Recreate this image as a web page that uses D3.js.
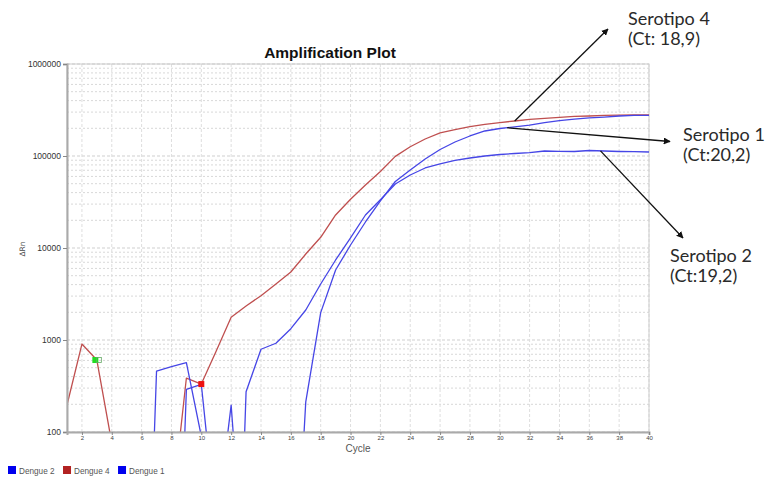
<!DOCTYPE html>
<html>
<head>
<meta charset="utf-8">
<script src="https://cdn.jsdelivr.net/npm/d3@7"></script>
<style>
  html, body { margin: 0; padding: 0; background: #fff; }
  svg { display: block; }
</style>
</head>
<body>
<svg id="chart" width="768" height="477"></svg>
<script>
// ---------------- data ----------------
const cycles = [1,2,3,4,5,6,7,8,9,10,11,12,13,14,15,16,17,18,19,20,
                21,22,23,24,25,26,27,28,29,30,31,32,33,34,35,36,37,38,39,40];
// values below 100 lie under the axis and are clipped
const dengue4 = [196,904,606,76,0.01,0.01,0.01,13,386,332,758,1765,2342,3030,4062,5484,8606,13070,22850,33840,
                 48400,67800,99000,126000,153000,178000,194000,209000,221000,231000,240000,250000,257000,263000,269000,272000,276000,278000,279000,279000];
const dengue2 = [0.01,0.01,0.01,0.01,0.01,0.01,460,512,566,90,0.01,0.005,274,793,922,1327,2119,4062,7410,12850,
                 22850,33500,49600,62200,74100,81900,89400,95100,100000,103800,106400,108600,113300,112000,111900,114700,113300,111900,111300,110500];
const dengue1 = [0.01,0.01,0.01,0.01,0.01,0.01,0.01,0.01,290,330,9,196,1.2,0.3,0.3,0.28,213,1984,5770,10780,
                 19170,32500,52800,70400,92800,117700,142000,165000,187000,199000,207000,217000,231000,243000,252000,259000,265000,272000,276000,276000];
const seriesNames = ["Dengue 2", "Dengue 4", "Dengue 1"];
const seriesColors = ["#0000ee", "#b22222", "#0000ee"];
const lineColors = {"Dengue 2": "#4646e6", "Dengue 4": "#bf4f4f", "Dengue 1": "#4646e6"};
const yTicks = [100, 1000, 10000, 100000, 1000000];
const xTicks = [2,4,6,8,10,12,14,16,18,20,22,24,26,28,30,32,34,36,38,40];
const annotations = [
  {lines: ["Serotipo 4", "(Ct: 18,9)"], series: "Dengue 4", cycle: 31, tx: 628, ty: 25, ax: 608, ay: 29},
  {lines: ["Serotipo 1", "(Ct:20,2)"], series: "Dengue 1", cycle: 30.5, tx: 683, ty: 141, ax: 670, ay: 141.5},
  {lines: ["Serotipo 2", "(Ct:19,2)"], series: "Dengue 2", cycle: 36.75, tx: 670, ty: 262, ax: 683, ay: 238}
];

// ---------------- chart ----------------
const svg = d3.select("#chart");
const L = 67, R = 649, T = 64, B = 432;
const x = d3.scaleLinear().domain([1, 40]).range([L, R]);
const y = d3.scaleLog().domain([100, 1e6]).range([B, T]);

const seriesData = {"Dengue 2": dengue2, "Dengue 4": dengue4, "Dengue 1": dengue1};

svg.append("rect").attr("width", 768).attr("height", 477).attr("fill", "#fff");

svg.append("defs").append("clipPath").attr("id", "clip")
  .append("rect").attr("x", L).attr("y", T).attr("width", R - L).attr("height", B - T);

// grid
const minor = [];
for (let d = 100; d < 1e6; d *= 10) for (let k = 2; k <= 9; k++) minor.push(d * k);
const grid = svg.append("g");
grid.selectAll("line.hm").data(minor).join("line")
  .attr("x1", L).attr("x2", R).attr("y1", d => y(d)).attr("y2", d => y(d))
  .attr("stroke", "#d8d8d8").attr("stroke-width", 1).attr("stroke-dasharray", "2,2");
grid.selectAll("line.hM").data(yTicks).join("line")
  .attr("x1", L).attr("x2", R).attr("y1", d => y(d)).attr("y2", d => y(d))
  .attr("stroke", "#cfcfcf").attr("stroke-width", 1).attr("stroke-dasharray", "3,2");
grid.selectAll("line.v").data(xTicks).join("line")
  .attr("x1", d => x(d)).attr("x2", d => x(d)).attr("y1", T).attr("y2", B)
  .attr("stroke", "#dedede").attr("stroke-width", 1).attr("stroke-dasharray", "3,2");

// frame
svg.append("rect").attr("x", L).attr("y", T).attr("width", R - L).attr("height", B - T)
  .attr("fill", "none").attr("stroke", "#cccccc").attr("stroke-width", 1);

// lines
const line = d3.line().x((d, i) => x(cycles[i])).y(d => y(d));
const lines = svg.append("g").attr("clip-path", "url(#clip)");
["Dengue 4", "Dengue 2", "Dengue 1"].forEach(name => {
  lines.append("path").datum(seriesData[name])
    .attr("d", line).attr("fill", "none")
    .attr("stroke", lineColors[name]).attr("stroke-width", 1.3)
    .attr("stroke-linejoin", "round");
});

// Ct markers
lines.append("rect").attr("x", x(3) - 4.5).attr("y", y(dengue4[2]) - 3).attr("width", 6).attr("height", 6).attr("fill", "#22dd22");
lines.append("rect").attr("x", x(3) - 0.5).attr("y", y(dengue4[2]) - 2.5).attr("width", 5).attr("height", 5).attr("fill", "none").attr("stroke", "#66aa66").attr("stroke-width", 0.8);
lines.append("rect").attr("x", x(10) - 3).attr("y", y(dengue4[9]) - 3).attr("width", 6).attr("height", 6).attr("fill", "#ee1111");

// axes
const yAxis = svg.append("g").attr("transform", `translate(${L},0)`)
  .call(d3.axisLeft(y).tickValues(yTicks).tickFormat(d3.format("d")).tickSize(4).tickPadding(2));
yAxis.select(".domain").attr("stroke", "#aaaaaa").attr("stroke-width", 2);
yAxis.selectAll(".tick line").attr("stroke", "#888");
yAxis.selectAll("text").attr("font-family", "Liberation Sans, Arial, sans-serif").attr("font-size", 8.5).attr("fill", "#333");

const xAxis = svg.append("g").attr("transform", `translate(0,${B})`)
  .call(d3.axisBottom(x).tickValues(xTicks).tickFormat(d3.format("d")).tickSize(3).tickPadding(1));
xAxis.select(".domain").attr("stroke", "#aaaaaa").attr("stroke-width", 2);
xAxis.selectAll(".tick line").attr("stroke", "#888");
xAxis.selectAll("text").attr("font-family", "Liberation Sans, Arial, sans-serif").attr("font-size", 6).attr("fill", "#444");

// titles
svg.append("text").attr("x", 330).attr("y", 58).attr("text-anchor", "middle")
  .attr("font-family", "Liberation Sans, Arial, sans-serif").attr("font-weight", "bold").attr("font-size", 15.5)
  .attr("fill", "#111").text("Amplification Plot");
svg.append("text").attr("x", 358).attr("y", 452).attr("text-anchor", "middle")
  .attr("font-family", "Liberation Sans, Arial, sans-serif").attr("font-size", 10)
  .attr("fill", "#555").text("Cycle");
svg.append("text").attr("transform", "translate(25,249) rotate(-90)").attr("text-anchor", "middle")
  .attr("font-family", "DejaVu Sans, sans-serif").attr("font-size", 7.5)
  .attr("fill", "#444").text("ΔRn");

// legend
const leg = svg.append("g").attr("transform", "translate(8,466)");
let lx = 0;
seriesNames.forEach((n, i) => {
  const g = leg.append("g").attr("transform", `translate(${lx},0)`);
  g.append("rect").attr("width", 8).attr("height", 8).attr("fill", seriesColors[i]);
  const t = g.append("text").attr("x", 11).attr("y", 7.5)
    .attr("font-family", "Liberation Sans, Arial, sans-serif").attr("font-size", 8.2).attr("fill", "#555").text(n);
  lx += 11 + t.node().getComputedTextLength() + 8.5;
});

// annotations
svg.append("defs").append("marker").attr("id", "arr").attr("viewBox", "0 0 10 10")
  .attr("refX", 9).attr("refY", 5).attr("markerWidth", 7).attr("markerHeight", 7)
  .attr("orient", "auto").attr("markerUnits", "userSpaceOnUse")
  .append("path").attr("d", "M0,0 L10,5 L0,10 z").attr("fill", "#111");
annotations.forEach(a => {
  const data = seriesData[a.series];
  const i0 = Math.floor(a.cycle) - 1, f = a.cycle - Math.floor(a.cycle);
  const v = Math.exp(Math.log(data[i0]) * (1 - f) + Math.log(data[i0 + 1]) * f);
  svg.append("line").attr("x1", x(a.cycle)).attr("y1", y(v)).attr("x2", a.ax).attr("y2", a.ay)
    .attr("stroke", "#111").attr("stroke-width", 1.3).attr("marker-end", "url(#arr)");
  a.lines.forEach((s, j) => {
    svg.append("text").attr("x", a.tx).attr("y", a.ty + j * 20)
      .attr("font-family", "Lato, Open Sans, sans-serif").attr("font-size", 18)
      .attr("fill", "#2a2a2a").text(s);
  });
});
</script>
</body>
</html>
